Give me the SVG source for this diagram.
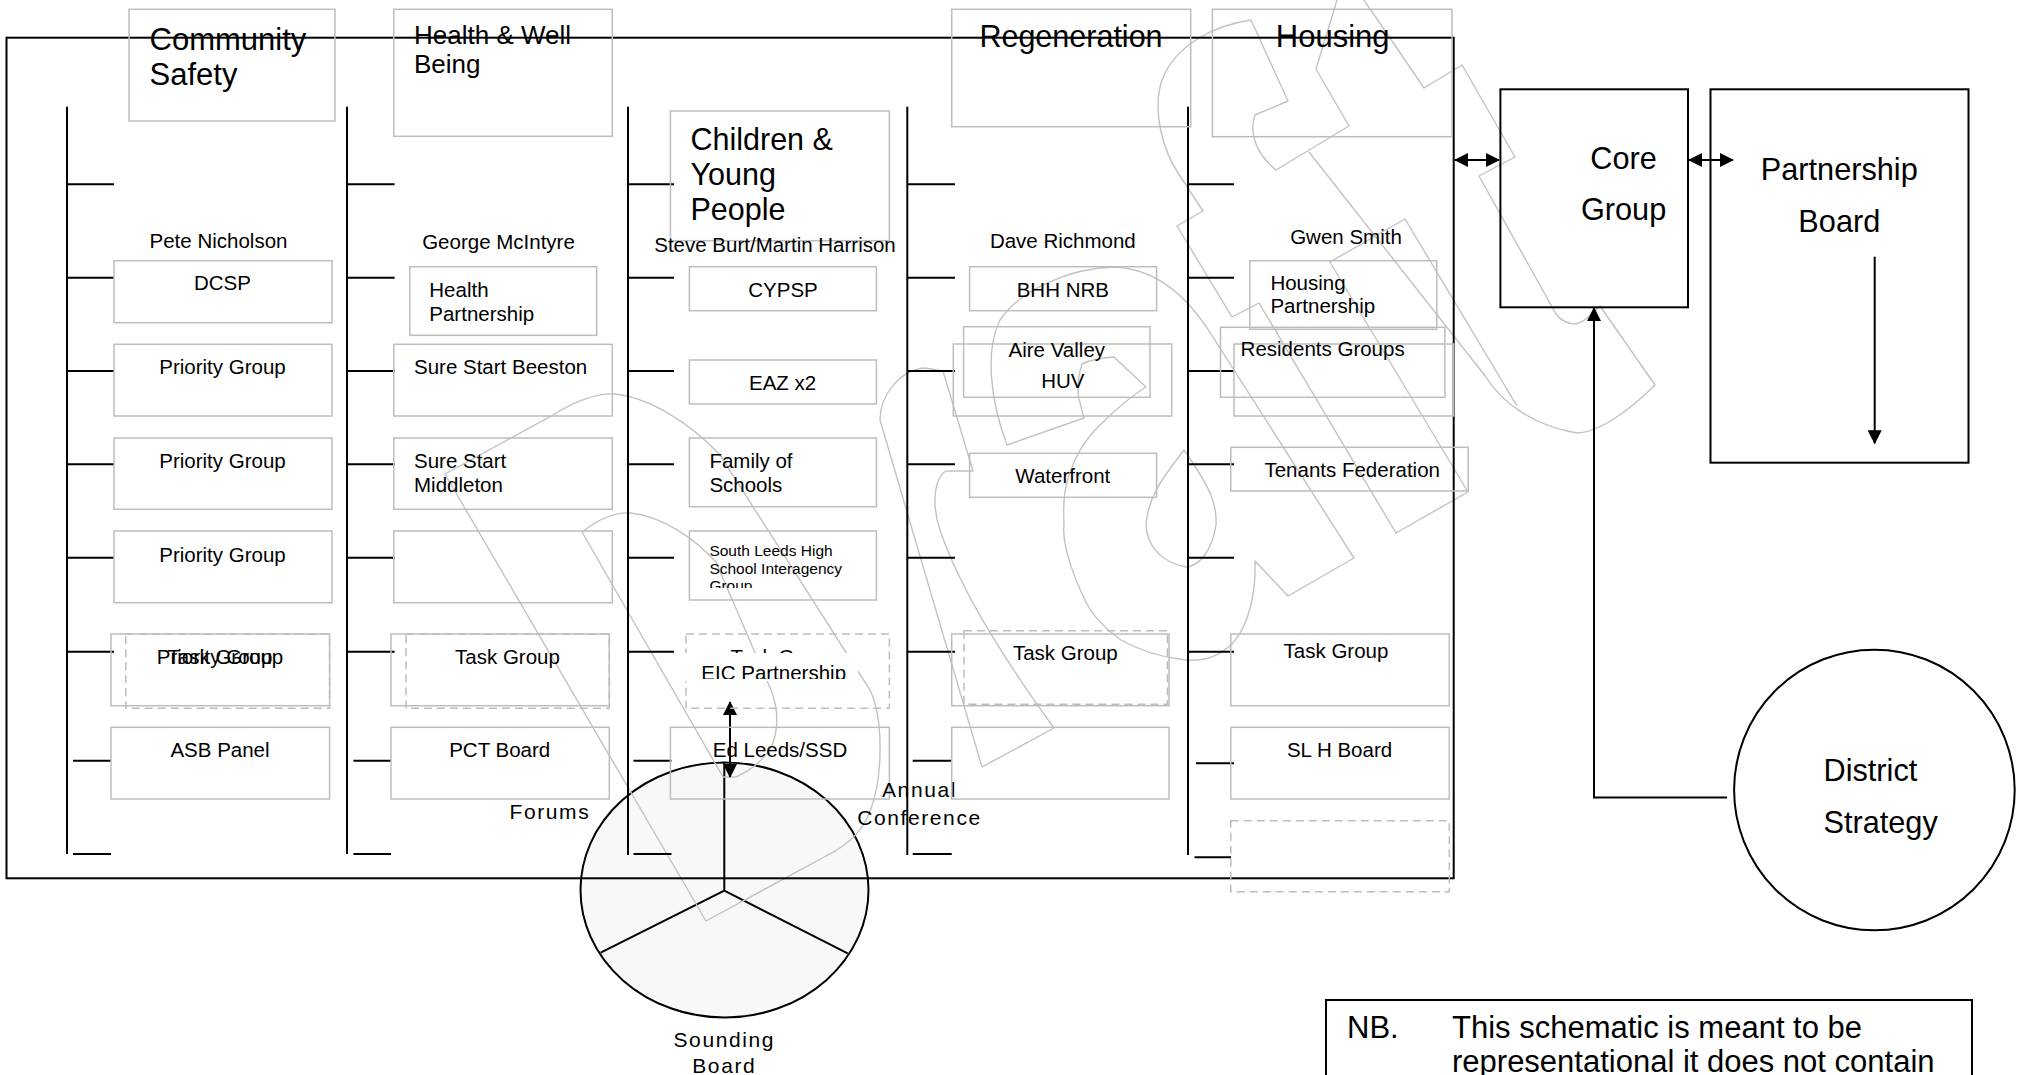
<svg xmlns="http://www.w3.org/2000/svg" width="2022" height="1075" viewBox="0 0 2022 1075">
<style>
text{font-family:"Liberation Sans",Arial,sans-serif;fill:#000}
.k{stroke:#000;stroke-width:2;fill:none}
.g{stroke:#bdbdbd;stroke-width:1.5;fill:none}
.gd{stroke:#bdbdbd;stroke-width:1.5;fill:none;stroke-dasharray:8 5}
.w{stroke:#c2c2c2;stroke-width:1.4;fill:none;stroke-linejoin:round}
.s{font-size:20.5px}
.m{text-anchor:middle}
.h{font-size:31px}
.sp{font-size:21px;letter-spacing:1.6px}
</style>
<defs>
<marker id="ah" viewBox="0 0 14 14" markerWidth="14" markerHeight="14" refX="13" refY="7" orient="auto-start-reverse" markerUnits="userSpaceOnUse"><path d="M0,0L14,7L0,14z" fill="#000"/></marker>
<clipPath id="clipSL"><rect x="680" y="530" width="200" height="58"/></clipPath>
<clipPath id="clipEIC"><rect x="676" y="653" width="182" height="26"/></clipPath>
</defs>
<rect width="2022" height="1075" fill="#fff"/>

<g id="sounding-board">
<ellipse cx="724.5" cy="890" rx="144" ry="127.5" fill="#f8f8f8" stroke="#000" stroke-width="2"/>
<path class="k" d="M724.3,762V890.7M724.3,890.7L600.7,952.7M724.3,890.7L847.7,953.3"/>
<text class="sp m" x="724.3" y="1046.7">Sounding</text>
<text class="sp m" x="724.3" y="1072.7">Board</text>
</g>

<g id="watermark">
<path class="w" d="M445,474L553,415C578,399 600,393 614,394C650,397 692,425 720,455L870,690C884,720 884,785 866,820C858,836 842,848 826,856L706,921Z"/>
<path class="w" d="M582,532C600,518 615,512 630,513C662,516 694,538 716,562L771,690C780,712 779,742 764,757C755,767 745,773 736,777L723,777Z"/>
<path class="w" d="M880,420C880,395 900,370 925,368L943,371L973,471L946,471C932,480 933,510 940,530C955,575 990,640 1054,728L982,767Z"/>
<path class="w" d="M1084,418L1007,445C990,400 985,350 1000,320C1020,290 1070,268 1114,267C1145,268 1180,285 1211,334L1354,558L1288,596L1255,561C1256,590 1250,625 1232,644C1215,660 1195,662 1179,659C1150,655 1130,645 1121,640C1100,625 1090,610 1086,602C1070,570 1062,540 1064,525C1063,505 1064,490 1068,479C1075,455 1085,440 1100,425C1115,410 1130,397 1146,387L1114,357C1098,358 1086,362 1082,364C1078,375 1077,390 1079,399Z"/>
<path class="w" d="M1184,450C1165,475 1148,495 1146,525C1147,545 1160,562 1186,567C1200,566 1212,550 1216,525C1217,505 1212,490 1184,450Z"/>
<path class="w" d="M1251,20C1215,25 1175,45 1162,80C1152,110 1162,150 1180,176L1203,211L1177,226L1232,317L1259,303L1396,533L1468,492L1330,262L1405,219L1517,406"/>
<path class="w" d="M1251,20L1288,101L1255,115C1248,135 1258,155 1276,170L1349,126L1316,69L1337,0"/>
<path class="w" d="M1309,152L1486,377C1500,400 1530,425 1577,433C1600,432 1630,410 1655,385L1600,306C1590,316 1584,322 1576,324C1568,324 1560,320 1556,314L1479,176L1515,157L1462,65L1424,88L1364,0"/>
</g>

<g id="frame">
<rect class="k" x="6.5" y="37.7" width="1447.2" height="840.6"/>
</g>

<g id="connectors">
<path class="k" d="M67,106.7V854M347,106.7V854M628,106.7V855M907.3,106.7V855M1188,106.7V855"/>
<path class="k" d="M67,184.3H114M67,277.7H114M67,371H114M67,464.3H114M67,557.7H114M67,651.7H114M73,760.7H111M73,854H111"/>
<path class="k" d="M347,184.3H394.6M347,277.7H394.6M347,371H394.6M347,464.3H394.6M347,557.7H394.6M347,651.7H394.6M353.4,760.7H391M353.4,854H391"/>
<path class="k" d="M628,184.3H674M628,277.7H674M628,371H674M628,464.3H674M628,557.7H674M628,651.7H674M633.5,760.7H671.5M633.5,854H671.5"/>
<path class="k" d="M907.3,184.3H955M907.3,277.7H955M907.3,371H955M907.3,464.3H955M907.3,557.7H955M907.3,651.7H955M912.7,760.7H951.7M912.7,854H951.7"/>
<path class="k" d="M1188,184.3H1234M1188,277.7H1234M1188,371H1234M1188,464.3H1234M1188,557.7H1234M1188,651.7H1234M1196,763.3H1234M1194.5,857.3H1231"/>
<path class="k" d="M1455,160H1499" marker-start="url(#ah)" marker-end="url(#ah)"/>
<path class="k" d="M1689,160H1733" marker-start="url(#ah)" marker-end="url(#ah)"/>
<path class="k" d="M1874.7,256.7V443.3" marker-end="url(#ah)"/>
<path class="k" d="M1727,797.5H1594V308" marker-end="url(#ah)"/>
<path class="k" d="M730,702V777" marker-start="url(#ah)" marker-end="url(#ah)"/>
</g>

<g id="community-safety">
<rect class="g" x="129" y="9.3" width="206" height="111.7"/>
<text class="h" x="149.6" y="50">Community</text>
<text class="h" x="149.6" y="85">Safety</text>
<text class="s m" x="218.5" y="248">Pete Nicholson</text>
</g>
<g id="dcsp"><rect class="g" x="114" y="260.7" width="218" height="62"/><text class="s m" x="222.5" y="290">DCSP</text></g>
<g id="priority-group-1"><rect class="g" x="114" y="344.3" width="218" height="71.7"/><text class="s m" x="222.5" y="374">Priority Group</text></g>
<g id="priority-group-2"><rect class="g" x="114" y="438" width="218" height="71.3"/><text class="s m" x="222.5" y="468.3">Priority Group</text></g>
<g id="priority-group-3"><rect class="g" x="114" y="531" width="218" height="71.7"/><text class="s m" x="222.5" y="561.7">Priority Group</text></g>
<g id="task-group-cs">
<rect class="g" x="111" y="634" width="218.6" height="71.7"/>
<rect class="gd" x="125.8" y="634" width="203.8" height="74.3"/>
<text class="s m" x="220" y="664">Priority Group</text>
<text class="s m" x="220" y="664">Task Group</text>
</g>
<g id="asb-panel"><rect class="g" x="111" y="727.3" width="218.6" height="71.7"/><text class="s m" x="220" y="756.7">ASB Panel</text></g>

<g id="health-well-being">
<rect class="g" x="393.8" y="9.3" width="218.5" height="127"/>
<text x="414" y="44" font-size="26">Health &amp; Well</text>
<text x="414" y="73" font-size="26">Being</text>
<text class="s m" x="498.5" y="249.3">George McIntyre</text>
</g>
<g id="health-partnership"><rect class="g" x="409.8" y="266.7" width="186.9" height="68.6"/><text class="s" x="429.3" y="296.7">Health</text><text class="s" x="429.3" y="320.7">Partnership</text></g>
<g id="sure-start-beeston"><rect class="g" x="393.8" y="344.3" width="218.5" height="71.7"/><text class="s" x="414" y="374">Sure Start Beeston</text></g>
<g id="sure-start-middleton"><rect class="g" x="393.8" y="438" width="218.5" height="71.3"/><text class="s" x="414" y="468.3">Sure Start</text><text class="s" x="414" y="491.7">Middleton</text></g>
<g id="hwb-empty"><rect class="g" x="393.8" y="531" width="218.5" height="71.7"/></g>
<g id="task-group-hwb">
<rect class="g" x="391" y="634" width="218.3" height="71.7"/>
<rect class="gd" x="406" y="634" width="203.3" height="74.3"/>
<text class="s m" x="507.5" y="664">Task Group</text>
</g>
<g id="pct-board"><rect class="g" x="391" y="727.3" width="218.3" height="71.7"/><text class="s m" x="499.7" y="756.7">PCT Board</text></g>
<g id="forums"><text class="sp" x="509.5" y="819">Forums</text></g>

<g id="children-young-people">
<rect class="g" x="670.4" y="111" width="219" height="129.7"/>
<text x="690.5" y="150" font-size="30.5">Children &amp;</text>
<text x="690.5" y="185" font-size="30.5">Young</text>
<text x="690.5" y="220" font-size="30.5">People</text>
<text class="s m" x="775" y="251.7">Steve Burt/Martin Harrison</text>
</g>
<g id="cypsp"><rect class="g" x="689.4" y="266.7" width="187" height="44"/><text class="s m" x="783" y="296.7">CYPSP</text></g>
<g id="eaz"><rect class="g" x="689.4" y="360" width="187" height="44"/><text class="s m" x="782.6" y="390">EAZ x2</text></g>
<g id="family-of-schools"><rect class="g" x="689.4" y="438" width="187" height="68.7"/><text class="s" x="709.4" y="468.3">Family of</text><text class="s" x="709.4" y="491.7">Schools</text></g>
<g id="south-leeds-high">
<rect class="g" x="689.4" y="531" width="187" height="69"/>
<g clip-path="url(#clipSL)" font-size="15.5">
<text x="709.4" y="556">South Leeds High</text>
<text x="709.4" y="574">School Interagency</text>
<text x="709.4" y="591">Group</text>
</g>
</g>
<g id="task-group-cyp">
<rect class="gd" x="686" y="634" width="203.4" height="74.3"/>
<text class="s m" x="783" y="664">Task Group</text>
</g>
<g id="eic-partnership">
<rect x="676" y="653" width="182" height="28" fill="#fff"/>
<text class="s m" x="773.7" y="680" clip-path="url(#clipEIC)">EIC Partnership</text>
</g>
<g id="ed-leeds"><rect class="g" x="670.4" y="727.3" width="219" height="71.7"/><text class="s m" x="780" y="756.7">Ed Leeds/SSD</text></g>
<g id="annual-conference"><text class="sp m" x="919.5" y="797.3">Annual</text><text class="sp m" x="919.5" y="825">Conference</text></g>

<g id="regeneration">
<rect class="g" x="951.7" y="9.3" width="239" height="117.4"/>
<text class="m" x="1071" y="46.7" font-size="30.5">Regeneration</text>
<text class="s m" x="1062.8" y="248.3">Dave Richmond</text>
</g>
<g id="bhh-nrb"><rect class="g" x="969.6" y="266.7" width="187" height="44"/><text class="s m" x="1062.8" y="296.7">BHH NRB</text></g>
<g id="aire-valley">
<rect class="g" x="963.6" y="326.7" width="186.4" height="70.6"/>
<rect class="g" x="953.3" y="344" width="218.4" height="72"/>
<text class="s m" x="1056.8" y="356.7">Aire Valley</text>
<text class="s m" x="1062.8" y="388.3">HUV</text>
</g>
<g id="waterfront"><rect class="g" x="969.6" y="453.3" width="187" height="44"/><text class="s m" x="1062.8" y="483.3">Waterfront</text></g>
<g id="task-group-reg">
<rect class="g" x="951.7" y="634" width="217.3" height="71.7"/>
<rect class="gd" x="964" y="630.7" width="203.4" height="73.6"/>
<text class="s m" x="1065.3" y="660">Task Group</text>
</g>
<g id="reg-empty"><rect class="g" x="951.7" y="727.3" width="217.3" height="71.7"/></g>

<g id="housing">
<rect class="g" x="1212.4" y="9.3" width="239.6" height="127.4"/>
<text class="h" x="1275.8" y="46.7">Housing</text>
<text class="s m" x="1346" y="244.3">Gwen Smith</text>
</g>
<g id="housing-partnership"><rect class="g" x="1249.8" y="260.7" width="187" height="68.6"/><text class="s" x="1270.4" y="290">Housing</text><text class="s" x="1270.4" y="313.3">Partnership</text></g>
<g id="residents-groups">
<rect class="g" x="1220.5" y="327.3" width="224.4" height="70"/>
<rect class="g" x="1234" y="344" width="219.6" height="72"/>
<text class="s" x="1240.6" y="356">Residents Groups</text>
</g>
<g id="tenants-federation"><rect class="g" x="1230.8" y="447.3" width="237.4" height="43.7"/><text class="s m" x="1352.2" y="476.7">Tenants Federation</text></g>
<g id="task-group-hou"><rect class="g" x="1230.8" y="634" width="218.5" height="71.7"/><text class="s m" x="1336" y="658.3">Task Group</text></g>
<g id="slh-board"><rect class="g" x="1230.8" y="727.3" width="218.5" height="71.7"/><text class="s m" x="1339.5" y="756.7">SL H Board</text></g>
<g id="hou-dashed"><rect class="gd" x="1230.8" y="820.7" width="218.5" height="71"/></g>

<g id="core-group">
<rect class="k" x="1500.4" y="89.3" width="187.6" height="218"/>
<text class="m" x="1623.6" y="169.3" font-size="30.7">Core</text>
<text class="m" x="1623.6" y="220" font-size="30.7">Group</text>
</g>
<g id="partnership-board">
<rect class="k" x="1710.5" y="89.3" width="258" height="373.4"/>
<text class="m" x="1839.3" y="180" font-size="30.7">Partnership</text>
<text class="m" x="1839.3" y="231.7" font-size="30.7">Board</text>
</g>
<g id="district-strategy">
<circle cx="1874.4" cy="790" r="140.3" fill="none" stroke="#000" stroke-width="2"/>
<text x="1823.5" y="780.8" font-size="30.7">District</text>
<text x="1823.5" y="832.6" font-size="30.7">Strategy</text>
</g>
<g id="nb-note">
<rect class="k" x="1326" y="1000" width="646" height="90"/>
<text x="1347" y="1038" font-size="31">NB.</text>
<text x="1452" y="1038" font-size="31">This schematic is meant to be</text>
<text x="1452" y="1072" font-size="31">representational it does not contain</text>
</g>
</svg>
